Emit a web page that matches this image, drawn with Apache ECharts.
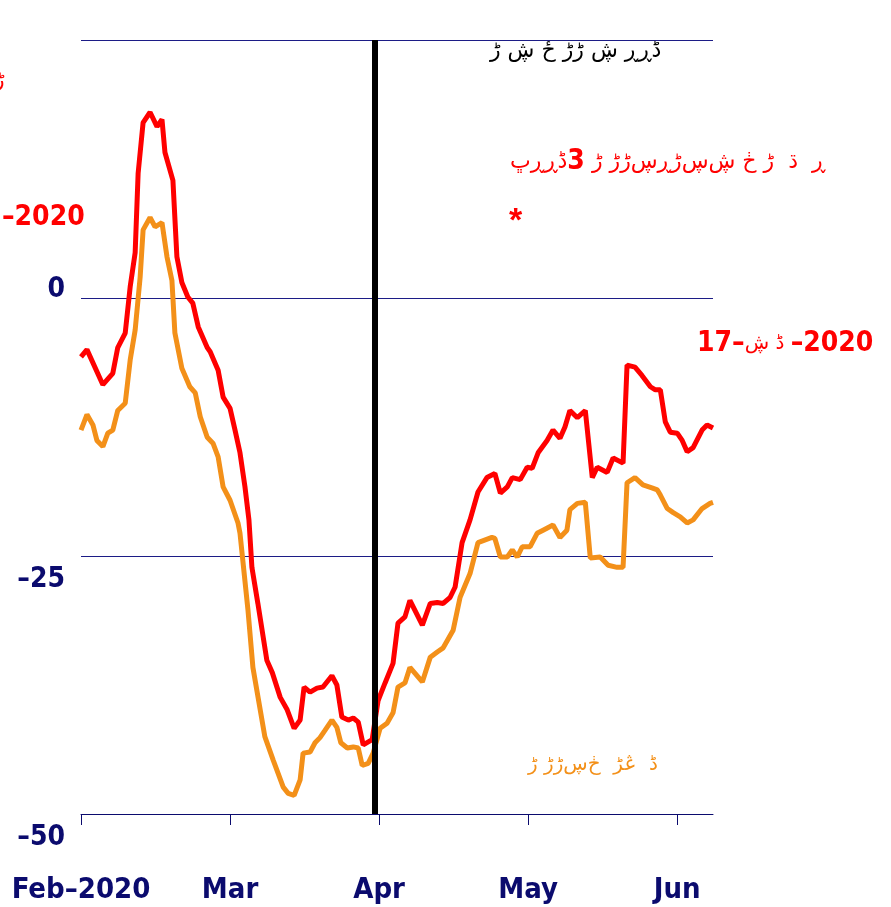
<!DOCTYPE html>
<html>
<head>
<meta charset="utf-8">
<script src="https://cdn.jsdelivr.net/npm/echarts@6/dist/echarts.min.js"></script>
<style>
  html, body { margin: 0; padding: 0; background: #fff; }
  #chart { width: 891px; height: 907px; }
</style>
</head>
<body>
<div id="chart"></div>
<script>
// day index from Feb 1 (each month drawn as 30 steps)
var monthTicks = [0, 30, 60, 90, 120];
var monthLabels = ['Feb\u20132020', 'Mar', 'Apr', 'May', 'Jun'];
var yTicks = [-50, -25, 0, 25];

var redDays = [0, 1.2, 4.4, 6.4, 7.4, 8.9, 9.9, 10.9, 11.5, 12.5, 13.9, 15.3, 16.3, 16.9, 18.5, 19.3, 20.3, 21.5, 22.5, 23.6,
  25.4, 26, 27.6, 28.6, 30, 31, 32, 33, 33.8, 34.4, 35.6, 37.4, 38.5, 40.1, 41.5, 42.9, 44.1, 44.9, 46.1, 47.5,
  48.7, 50.5, 51.5, 52.5, 53.8, 54.8, 55.8, 56.8, 58.6, 59.8, 61.2, 62.8, 63.8, 65.2, 66.2, 68.7, 70.3, 71.7, 72.9, 74.3,
  75.3, 76.7, 78.3, 79.9, 81.7, 83.3, 84.4, 85.8, 86.8, 88.4, 89.8, 90.8, 92, 93.8, 95, 96.4, 97.4, 98.4, 99.9, 101.5,
  102.9, 103.9, 105.9, 107.1, 109.1, 109.9, 111.5, 112.9, 114.6, 115.6, 116.6, 117.6, 118.6, 120, 121, 122, 123.2, 125, 126, 127.2];
var redVals = [-5.7, -5.0, -8.4, -7.3, -4.8, -3.4, 1.1, 4.4, 12.1, 17.0, 18.0, 16.6, 17.3, 14.1, 11.4, 4.0, 1.5, 0.1, -0.5, -2.8,
  -4.8, -5.2, -7.0, -9.6, -10.7, -12.8, -15.0, -18.3, -21.5, -26.1, -29.6, -35.1, -36.3, -38.7, -39.9, -41.7, -40.9, -37.7, -38.2, -37.8,
  -37.7, -36.6, -37.5, -40.6, -40.9, -40.7, -41.1, -43.3, -42.8, -39.0, -37.3, -35.4, -31.5, -30.9, -29.3, -31.7, -29.6, -29.5, -29.6, -29.0,
  -28.0, -23.7, -21.5, -18.8, -17.4, -17.0, -18.9, -18.3, -17.4, -17.6, -16.4, -16.5, -15.0, -13.8, -12.8, -13.6, -12.5, -10.9, -11.6, -10.9,
  -17.4, -16.4, -16.9, -15.5, -16.0, -6.5, -6.7, -7.5, -8.6, -8.9, -8.9, -12.0, -13.0, -13.1, -13.8, -14.9, -14.5, -12.8, -12.3, -12.6];

var orangeDays = [0, 1.2, 2.4, 3.2, 4.4, 5.4, 6.4, 7.4, 8.9, 9.9, 10.9, 11.9, 12.5, 13.9, 14.9, 16.3, 17.3, 18.3, 18.9, 20.3,
  21.9, 23, 24, 25.4, 26.6, 27.6, 28.6, 30, 31.6, 32, 33.6, 34.6, 37, 38.7, 40.7, 41.7, 42.9, 44.1, 44.7, 46.1,
  47.1, 48.1, 49.1, 50.5, 51.5, 52.3, 53.6, 54.8, 55.8, 56.6, 57.8, 58.8, 60.2, 61.6, 62.8, 63.8, 65.2, 66.2, 68.7, 70.3,
  71.7, 72.9, 74.9, 76.3, 78.3, 79.9, 82.7, 83.3, 84.4, 85.8, 86.8, 87.8, 88.8, 90.4, 91.8, 93, 95, 96.4, 97.8, 98.4,
  99.9, 101.5, 102.5, 104.5, 106.1, 107.9, 109.1, 109.9, 111.5, 113.1, 114.9, 116, 116.6, 118, 119.2, 120.6, 122, 123.2, 125, 126.6, 127.2];
var orangeVals = [-12.8, -11.3, -12.3, -13.8, -14.4, -13.1, -12.8, -10.9, -10.2, -6.0, -3.1, 2.0, 6.6, 7.8, 6.9, 7.3, 4.0, 1.7, -3.4, -6.8,
  -8.6, -9.2, -11.5, -13.5, -14.1, -15.4, -18.3, -19.6, -21.8, -22.8, -30.2, -35.8, -42.5, -44.8, -47.4, -48.0, -48.2, -46.7, -44.1, -44.0,
  -43.1, -42.6, -41.9, -40.9, -41.6, -43.1, -43.6, -43.5, -43.6, -45.3, -45.1, -44.1, -41.7, -41.2, -40.2, -37.7, -37.3, -35.8, -37.2, -34.8,
  -34.3, -33.9, -32.2, -29.0, -26.7, -23.7, -23.2, -23.3, -25.1, -25.1, -24.4, -25.1, -24.1, -24.1, -22.8, -22.5, -22.0, -23.2, -22.5, -20.5,
  -19.9, -19.8, -25.2, -25.1, -25.9, -26.1, -26.1, -17.9, -17.4, -18.1, -18.4, -18.6, -19.1, -20.4, -20.8, -21.2, -21.8, -21.5, -20.4, -19.9, -19.8];

var markerDay = 59.2;

var navy = '#0b0b6e';
var labelFont = '"DejaVu Sans Condensed", "Liberation Sans", sans-serif';
var arabicFont = '"DejaVu Sans", sans-serif';

function pairs(xs, ys) {
    var out = [];
    for (var i = 0; i < xs.length; i++) out.push([xs[i], ys[i]]);
    return out;
}

var chart = echarts.init(document.getElementById('chart'));

var option = {
    backgroundColor: '#ffffff',
    animation: false,
    grid: { left: 81, right: 178, top: 40, bottom: 93, containLabel: false },
    xAxis: {
        type: 'value',
        min: 0,
        max: 127.2,
        interval: 30,
        splitLine: { show: false },
        axisLine: { show: true, onZero: false, lineStyle: { color: navy, width: 1 } },
        axisTick: { show: true, length: 11, customValues: monthTicks, lineStyle: { color: navy, width: 1 } },
        axisLabel: {
            customValues: monthTicks,
            margin: 62,
            fontFamily: labelFont,
            fontWeight: 'bold',
            fontSize: 29,
            color: navy,
            formatter: function (v) {
                var i = monthTicks.indexOf(v);
                return i >= 0 ? monthLabels[i] : '';
            }
        }
    },
    yAxis: {
        type: 'value',
        min: -50,
        max: 25,
        interval: 25,
        axisLine: { show: false },
        axisTick: { show: false },
        splitLine: { show: true, lineStyle: { color: '#1c1c86', width: 1 } },
        axisLabel: {
            margin: 16,
            fontFamily: labelFont,
            fontWeight: 'bold',
            fontSize: 28,
            color: navy,
            formatter: function (v) {
                if (v === 25) return '';
                var s = v < 0 ? '\u2013' + Math.abs(v) : String(v);
                return v === 0 ? '{up|' + s + '}' : '{down|' + s + '}';
            },
            rich: {
                up: { fontFamily: labelFont, fontWeight: 'bold', fontSize: 28, color: navy, padding: [0, 0, 16, 0] },
                down: { fontFamily: labelFont, fontWeight: 'bold', fontSize: 28, color: navy, padding: [48, 0, 0, 0] }
            }
        }
    },
    series: [
        {
            name: 'orange',
            type: 'line',
            data: pairs(orangeDays, orangeVals),
            showSymbol: false,
            lineStyle: { color: '#f39019', width: 5 },
            z: 2
        },
        {
            name: 'red',
            type: 'line',
            data: pairs(redDays, redVals),
            showSymbol: false,
            lineStyle: { color: '#ff0000', width: 5 },
            z: 3,
            markLine: {
                symbol: 'none',
                silent: true,
                label: { show: false },
                lineStyle: { color: '#000000', width: 6, type: 'solid' },
                data: [{ xAxis: markerDay }]
            }
        }
    ],
    graphic: [
        { type: 'text', left: 490, top: 40,
          style: { text: 'ڈ\u200cڕ\u200cڕ ڜ ڑ\u200cڑ ځ ڜ ڑ', font: '22px ' + arabicFont, fill: '#000000' } },
        { type: 'text', left: 510, top: 148,
          style: {
              text: '{a|ڈ\u200cڕ\u200cڕ\u200cڀ}{b|3}{a| ڕ  ڌ  ڑ ڂ ڜ\u200cڛ\u200cڑ\u200cڕ\u200cڛ\u200cڑ\u200cڑ ڑ}',
              rich: {
                  a: { font: '22px ' + arabicFont, fill: '#ff0000' },
                  b: { font: 'bold 28px ' + labelFont, fill: '#ff0000' }
              }
          } },
        { type: 'text', left: 509, top: 205,
          style: { text: '*', font: 'bold 34px "Liberation Sans", sans-serif', fill: '#ff0000' } },
        { type: 'text', left: 697, top: 330,
          style: {
              text: '{b|17\u2013}{a|ڈ ڜ }{b|\u20132020}',
              rich: {
                  a: { font: '20px ' + arabicFont, fill: '#ff0000' },
                  b: { font: 'bold 28px ' + labelFont, fill: '#ff0000' }
              }
          } },
        { type: 'text', left: 528, top: 755,
          style: { text: 'ڈ  ڠڑ  ڂ\u200cڛ\u200cڑ\u200cڑ ڑ', font: '20px ' + arabicFont, fill: '#f39019' } },
        { type: 'text', left: -6, top: 70,
          style: { text: 'ڑ', font: '22px ' + arabicFont, fill: '#ff0000' } },
        { type: 'text', left: 2, top: 204,
          style: { text: '\u20132020', font: 'bold 28px ' + labelFont, fill: '#ff0000' } }
    ]
};

chart.setOption(option);
</script>
</body>
</html>
